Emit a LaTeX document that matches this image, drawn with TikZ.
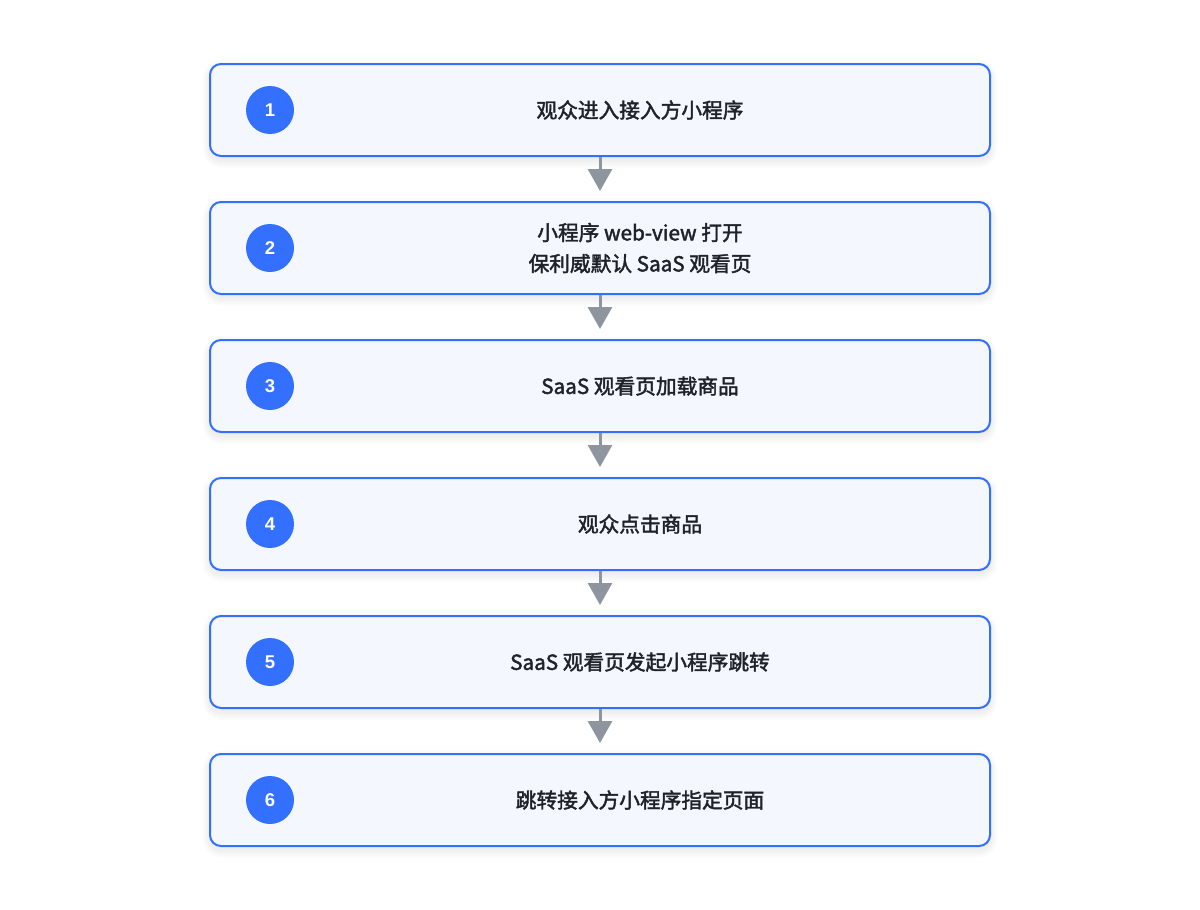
\documentclass[tikz,border=0pt]{standalone}
\usepackage{fontspec}
\newfontfamily\cjkmed[FakeBold=2]{Noto Sans CJK SC}
\newfontfamily\numfont{Liberation Sans}
\usetikzlibrary{arrows.meta}
\definecolor{bblue}{HTML}{3370FF}
\definecolor{bfill}{HTML}{F4F7FE}
\definecolor{agray}{HTML}{8F959E}
\definecolor{tdark}{HTML}{1F2329}
\tikzset{
  stepbox/.style={draw=bblue, line width=2pt, fill=bfill, rounded corners=11pt, minimum width=780pt, minimum height=92pt, inner sep=0pt},
  numdot/.style={circle, fill=bblue, minimum size=48pt, inner sep=0pt, text=white, font=\numfont\bfseries\fontsize{18.5}{18.5}\selectfont},
  steptext/.style={text=tdark, align=center, font=\cjkmed\fontsize{20.7}{31}\selectfont},
  flow/.style={draw=agray, line width=3pt, -{Triangle[length=22pt,width=24pt]}, shorten >=10pt},
}
\begin{document}
\begin{tikzpicture}[x=1pt,y=-1pt]
\useasboundingbox (0,0) rectangle (1200,910);
\fill[white] (0,0) rectangle (1200,910);
% shadows
\foreach \i in {0,...,5}{
  \foreach \k in {1,...,8}{
    \fill[black, opacity=0.009, rounded corners=12pt+\k pt] (210-\k,64+138*\i-\k+4) rectangle (990+\k,156+138*\i+\k+4);
  }
}
\node[stepbox] (b1) at (600,110) {};
\node[stepbox] (b2) at (600,248) {};
\node[stepbox] (b3) at (600,386) {};
\node[stepbox] (b4) at (600,524) {};
\node[stepbox] (b5) at (600,662) {};
\node[stepbox] (b6) at (600,800) {};
\node[numdot] (n1) at (270,110) {1};
\node[numdot] (n2) at (270,248) {2};
\node[numdot] (n3) at (270,386) {3};
\node[numdot] (n4) at (270,524) {4};
\node[numdot] (n5) at (270,662) {5};
\node[numdot] (n6) at (270,800) {6};
\node[steptext] (t1) at (640,110) {观众进入接入方小程序};
\node[steptext] (t2) at (640,248) {小程序 web-view 打开\\保利威默认 SaaS 观看页};
\node[steptext] (t3) at (640,386) {SaaS 观看页加载商品};
\node[steptext] (t4) at (640,524) {观众点击商品};
\node[steptext] (t5) at (640,662) {SaaS 观看页发起小程序跳转};
\node[steptext] (t6) at (640,800) {跳转接入方小程序指定页面};
\draw[flow] (b1.south) -- (b2.north);
\draw[flow] (b2.south) -- (b3.north);
\draw[flow] (b3.south) -- (b4.north);
\draw[flow] (b4.south) -- (b5.north);
\draw[flow] (b5.south) -- (b6.north);
\end{tikzpicture}
\end{document}
